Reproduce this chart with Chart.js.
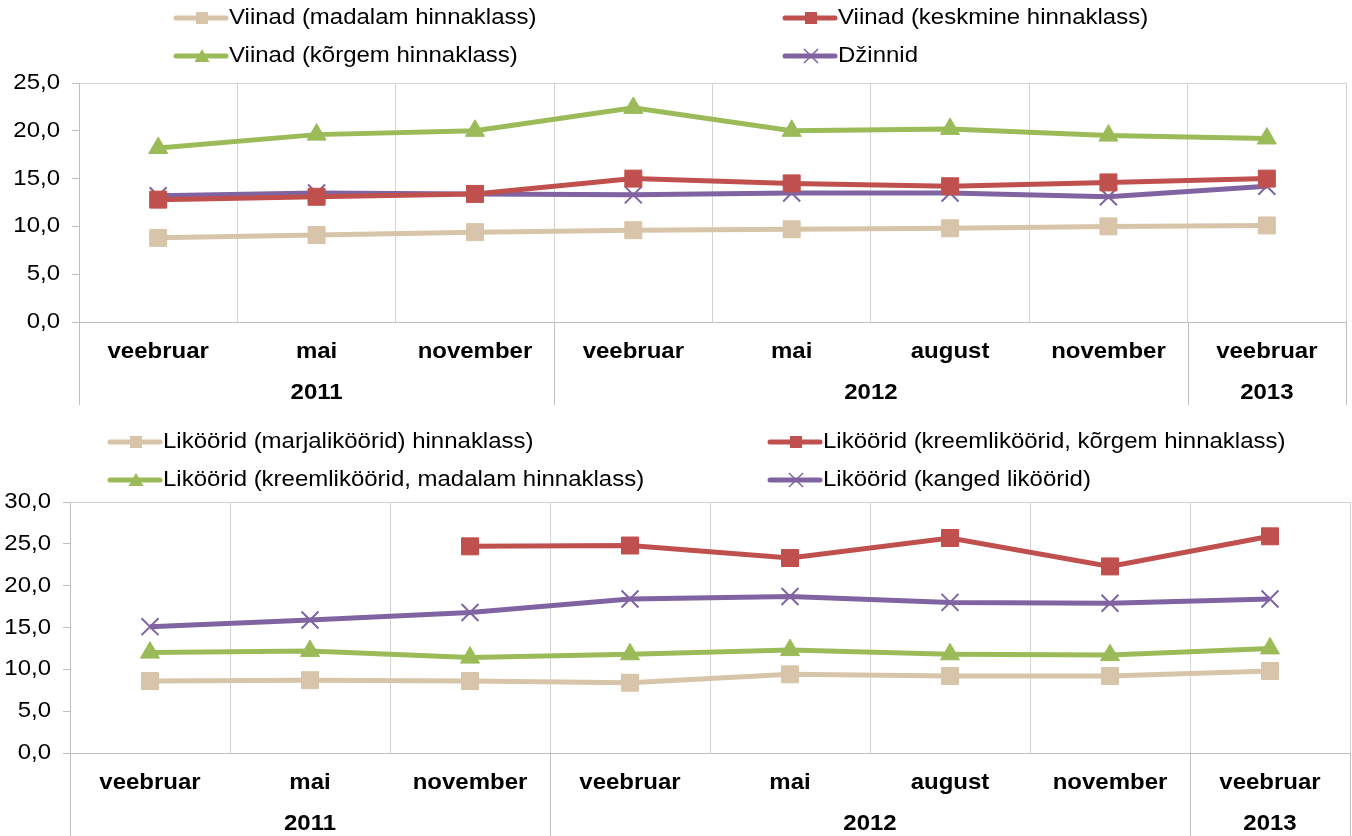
<!DOCTYPE html>
<html>
<head>
<meta charset="utf-8">
<script src="https://cdn.jsdelivr.net/npm/chart.js@4"></script>
<style>
  body { margin: 0; background: #fff; }
  canvas { display: block; }
</style>
</head>
<body>
<canvas id="chartViinad" width="1352" height="418"></canvas>
<canvas id="chartLikoorid" width="1352" height="418"></canvas>
<script>
// kategooriad (kuud) ja aastad
const months = ['veebruar', 'mai', 'november', 'veebruar', 'mai', 'august', 'november', 'veebruar'];
const years = ['2011', '2012', '2013'];
const yearSpans = [3, 4, 1];

// ülemine graafik: viinad ja džinnid
const viinadMadalam = [8.8, 9.1, 9.4, 9.6, 9.7, 9.8, 10.0, 10.1];
const viinadKeskmine = [12.8, 13.1, 13.4, 15.0, 14.5, 14.2, 14.6, 15.0];
const viinadKorgem = [18.2, 19.6, 20.0, 22.4, 20.0, 20.2, 19.5, 19.2];
const dzinnid = [13.2, 13.5, 13.4, 13.3, 13.5, 13.5, 13.1, 14.2];

// alumine graafik: liköörid
const likMarja = [8.6, 8.7, 8.6, 8.4, 9.4, 9.2, 9.2, 9.8];
const likKreemKorgem = [null, null, 24.7, 24.8, 23.3, 25.7, 22.3, 25.9];
const likKreemMadalam = [12.0, 12.2, 11.4, 11.8, 12.3, 11.8, 11.7, 12.5];
const likKanged = [15.1, 15.9, 16.8, 18.4, 18.7, 18.0, 17.9, 18.4];

const beige = '#D8C4A8';
const red = '#C0504D';
const green = '#9BBB59';
const purple = '#8064A2';
const gridGray = '#D4D4D4';
const axisGray = '#BFBFBF';
const fontFamily = "'Liberation Sans', Arial, sans-serif";
const fontSize = 22;
const stretch = 1.09; // originaalis on tekst veidi laiem

// teksti joonistamine kergelt laiendatuna
function drawText(ctx, text, x, y, align, bold) {
  ctx.save();
  ctx.font = (bold ? 'bold ' : '') + fontSize + 'px ' + fontFamily;
  ctx.textAlign = align;
  ctx.textBaseline = 'middle';
  ctx.fillStyle = '#000';
  ctx.translate(x, y);
  ctx.scale(stretch, 1);
  ctx.fillText(text, 0, 0);
  ctx.restore();
}

function makeSet(label, data, color, style) {
  const cross = style === 'crossRot';
  return {
    label: label,
    data: data,
    borderColor: color,
    backgroundColor: color,
    borderWidth: 5,
    pointStyle: style,
    pointRadius: style === 'triangle' ? 11 : 12,
    pointBorderWidth: cross ? 2 : 1,
    pointBackgroundColor: color,
    pointBorderColor: color,
    tension: 0,
    spanGaps: false
  };
}

// legend kahes veerus, nagu Excelis
const legendPlugin = {
  id: 'gridLegend',
  afterDraw(chart, args, opts) {
    const ctx = chart.ctx;
    ctx.save();
    chart.data.datasets.forEach((ds, i) => {
      const x = opts.cols[i % 2];
      const y = opts.rows[Math.floor(i / 2)];
      const c = ds.borderColor;
      ctx.strokeStyle = c;
      ctx.lineWidth = 5;
      ctx.lineCap = 'round';
      ctx.beginPath();
      ctx.moveTo(x, y);
      ctx.lineTo(x + 50, y);
      ctx.stroke();
      const mx = x + 26;
      ctx.fillStyle = c;
      if (ds.pointStyle === 'rect') {
        ctx.fillRect(mx - 6, y - 6, 12, 12);
      } else if (ds.pointStyle === 'triangle') {
        ctx.beginPath();
        ctx.moveTo(mx, y - 7);
        ctx.lineTo(mx + 7.5, y + 6);
        ctx.lineTo(mx - 7.5, y + 6);
        ctx.closePath();
        ctx.fill();
      } else {
        ctx.lineWidth = 1.5;
        ctx.lineCap = 'butt';
        ctx.beginPath();
        ctx.moveTo(mx - 7, y - 7); ctx.lineTo(mx + 7, y + 7);
        ctx.moveTo(mx + 7, y - 7); ctx.lineTo(mx - 7, y + 7);
        ctx.stroke();
      }
      drawText(ctx, ds.label, x + 53, y, 'left', false);
    });
    ctx.restore();
  }
};

// teljesildid: y väärtused, kuud, aastad ja eraldusjooned
const axisLabelPlugin = {
  id: 'axisLabels',
  afterDraw(chart, args, opts) {
    const ctx = chart.ctx;
    const xs = chart.scales.x;
    const ys = chart.scales.y;
    const area = chart.chartArea;

    ys.ticks.forEach(t => {
      const label = t.value.toFixed(1).replace('.', ',');
      drawText(ctx, label, area.left - 19, ys.getPixelForValue(t.value), 'right', false);
    });

    months.forEach((m, i) => {
      drawText(ctx, m, xs.getPixelForValue(i), area.bottom + 30, 'center', true);
    });

    ctx.save();
    ctx.strokeStyle = axisGray;
    ctx.lineWidth = 1;
    let start = 0;
    const bounds = [0];
    yearSpans.forEach(s => { start += s; bounds.push(start); });
    bounds.forEach(b => {
      const px = Math.round(xs.getPixelForValue(b - 0.5)) + 0.5;
      ctx.beginPath();
      ctx.moveTo(px, area.bottom);
      ctx.lineTo(px, opts.sepBottom);
      ctx.stroke();
    });
    ctx.restore();

    years.forEach((y, i) => {
      const mid = bounds[i] + (yearSpans[i] - 1) / 2;
      drawText(ctx, y, xs.getPixelForValue(mid), area.bottom + 71, 'center', true);
    });
  }
};

function makeChart(id, datasets, yMax, cfg) {
  return new Chart(document.getElementById(id), {
    type: 'line',
    data: { labels: months, datasets: datasets },
    plugins: [legendPlugin, axisLabelPlugin],
    options: {
      responsive: false,
      animation: false,
      layout: {
        autoPadding: false,
        padding: { top: cfg.top, right: cfg.right, left: 0, bottom: 0 }
      },
      plugins: {
        legend: { display: false },
        tooltip: { enabled: false },
        gridLegend: { cols: cfg.cols, rows: cfg.rows },
        axisLabels: { sepBottom: cfg.sepBottom }
      },
      scales: {
        x: {
          offset: true,
          grid: { offset: true, color: gridGray, drawTicks: false },
          border: { color: axisGray },
          ticks: { display: false },
          afterFit(scale) {
            scale.height = cfg.xHeight;
            scale.paddingLeft = 0;
            scale.paddingRight = 0;
          }
        },
        y: {
          min: 0,
          max: yMax,
          ticks: { stepSize: 5, display: false },
          grid: {
            color: c => (c.tick && (c.tick.value === yMax || c.tick.value === 0)) ? gridGray : 'rgba(0,0,0,0)',
            tickColor: axisGray,
            tickLength: 7
          },
          border: { color: axisGray },
          afterFit(scale) {
            scale.width = cfg.yWidth;
            scale.paddingTop = 0;
            scale.paddingBottom = 0;
          }
        }
      }
    }
  });
}

makeChart('chartViinad', [
  makeSet('Viinad (madalam hinnaklass)', viinadMadalam, beige, 'rect'),
  makeSet('Viinad (keskmine hinnaklass)', viinadKeskmine, red, 'rect'),
  makeSet('Viinad (kõrgem hinnaklass)', viinadKorgem, green, 'triangle'),
  makeSet('Džinnid', dzinnid, purple, 'crossRot')
], 25, {
  top: 83, right: 6, yWidth: 79, xHeight: 96, sepBottom: 405,
  cols: [176, 785], rows: [18, 56]
});

makeChart('chartLikoorid', [
  makeSet('Liköörid (marjaliköörid) hinnaklass)', likMarja, beige, 'rect'),
  makeSet('Liköörid (kreemliköörid, kõrgem hinnaklass)', likKreemKorgem, red, 'rect'),
  makeSet('Liköörid (kreemliköörid, madalam hinnaklass)', likKreemMadalam, green, 'triangle'),
  makeSet('Liköörid (kanged liköörid)', likKanged, purple, 'crossRot')
], 30, {
  top: 84, right: 2, yWidth: 70, xHeight: 83, sepBottom: 418,
  cols: [110, 770], rows: [24, 62]
});
</script>
</body>
</html>
